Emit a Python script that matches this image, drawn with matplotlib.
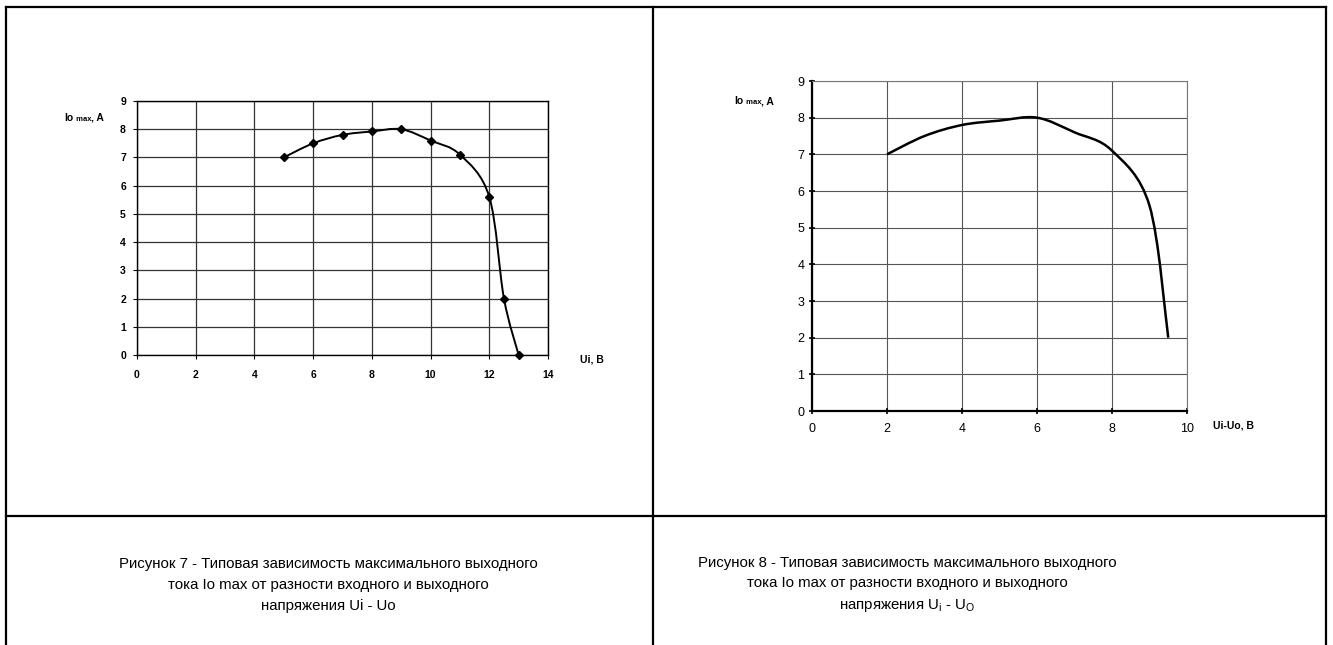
import numpy as np
import matplotlib
matplotlib.use("Agg")
import matplotlib.pyplot as plt
from matplotlib.path import Path
from matplotlib.patches import PathPatch
from matplotlib.lines import Line2D

plt.rcParams['font.family'] = ['Liberation Sans', 'DejaVu Sans']

# данные, рисунок 7
ui_7 = [5, 6, 7, 8, 9, 10, 11, 12, 12.5, 13]
io_7 = [7.0, 7.5, 7.8, 7.92, 8.0, 7.6, 7.1, 5.6, 2.0, 0.0]

# данные, рисунок 8
du_8 = [2, 3, 4, 5, 6, 7, 8, 9, 9.5]
io_8 = [7.0, 7.5, 7.8, 7.92, 8.0, 7.6, 7.1, 5.6, 2.0]

x_ticks_7 = [0, 2, 4, 6, 8, 10, 12, 14]
x_ticks_8 = [0, 2, 4, 6, 8, 10]
y_ticks = list(range(10))

caption_7 = ("Рисунок 7 - Типовая зависимость максимального выходного\n"
             "тока Io max от разности входного и выходного\n"
             "напряжения Ui - Uo")
caption_8 = ("Рисунок 8 - Типовая зависимость максимального выходного\n"
             "тока Io max от разности входного и выходного\n"
             r"напряжения U$_\mathregular{i}$ - U$_\mathregular{O}$")

W, H = 1333, 645
fig = plt.figure(figsize=(W / 100, H / 100), dpi=100)


def px_axes(x0, y0, x1, y1):
    # координаты в пикселях (сверху вниз)
    return fig.add_axes([x0 / W, 1 - y1 / H, (x1 - x0) / W, (y1 - y0) / H])


def smooth_path(xs, ys):
    # сглаженная линия как в Excel (кривые Безье)
    p = np.column_stack([xs, ys]).astype(float)
    verts = [p[0]]
    codes = [Path.MOVETO]
    n = len(p)
    for i in range(n - 1):
        p0 = p[i - 1] if i > 0 else p[i]
        p1, p2 = p[i], p[i + 1]
        p3 = p[i + 2] if i + 2 < n else p[i + 1]
        verts += [p1 + (p2 - p0) / 6, p2 - (p3 - p1) / 6, p2]
        codes += [Path.CURVE4] * 3
    return Path(verts, codes)


def ylabel(ax_x_end, y, size_big, size_small):
    t = fig.text(ax_x_end / W, 1 - y / H, ", A", fontsize=size_big,
                 fontweight='bold', ha='right', va='baseline')
    m = plt.annotate(" max", xy=(0, 0), xycoords=t, fontsize=size_small,
                     fontweight='bold', ha='right', va='bottom')
    plt.annotate("Io", xy=(0, 0), xycoords=m, fontsize=size_big,
                 fontweight='bold', ha='right', va='bottom')


# ---- рисунок 7 ----
ax1 = px_axes(137, 101, 548, 355)
ax1.set_xlim(0, 14)
ax1.set_ylim(0, 9)
ax1.set_xticks(x_ticks_7)
ax1.set_yticks(y_ticks)
ax1.grid(True, color='#333333', lw=0.9)
ax1.set_axisbelow(True)
for s in ax1.spines.values():
    s.set_color('black')
    s.set_linewidth(1.0)
ax1.tick_params(direction='out', length=3, width=0.8, pad=8, labelsize=7.5)
for lab in ax1.get_xticklabels() + ax1.get_yticklabels():
    lab.set_fontweight('bold')
ax1.tick_params(axis='y', pad=5)
ax1.add_patch(PathPatch(smooth_path(ui_7, io_7), fill=False, lw=1.4,
                        ec='black', zorder=3))
ax1.plot(ui_7, io_7, ls='none', marker='D', ms=4, color='black', zorder=4,
         clip_on=False)
fig.text(580 / W, 1 - 360 / H, "Ui, B", fontsize=7.5, fontweight='bold',
         ha='left', va='center')
ylabel(104, 121, 7.5, 5.5)

# ---- рисунок 8 ----
ax2 = px_axes(812, 81, 1187, 411)
ax2.set_xlim(0, 10)
ax2.set_ylim(0, 9)
ax2.set_xticks(x_ticks_8)
ax2.set_yticks(y_ticks)
ax2.grid(True, color='#555555', lw=0.8)
ax2.set_axisbelow(True)
ax2.spines['left'].set_linewidth(1.6)
ax2.spines['bottom'].set_linewidth(1.6)
ax2.spines['top'].set_color('#777777')
ax2.spines['right'].set_color('#777777')
ax2.spines['top'].set_linewidth(0.8)
ax2.spines['right'].set_linewidth(0.8)
ax2.tick_params(direction='inout', length=5, width=1.2, labelsize=9)
ax2.tick_params(axis='x', pad=6)
ax2.tick_params(axis='y', pad=3)
ax2.add_patch(PathPatch(smooth_path(du_8, io_8), fill=False, lw=1.8,
                        ec='black', zorder=3))
fig.text(1213 / W, 1 - 425 / H, "Ui-Uo, B", fontsize=7.5, fontweight='bold',
         ha='left', va='center')
ylabel(774, 104, 7.5, 5.5)

# ---- подписи ----
fig.text(328 / W, 1 - 585 / H, caption_7, fontsize=10.8, ha='center',
         va='center', multialignment='center', linespacing=1.6)
fig.text(907 / W, 1 - 585 / H, caption_8, fontsize=10.8, ha='center',
         va='center', multialignment='center', linespacing=1.6)

# ---- рамка таблицы ----
lw = 1.6
for xy in [([6, 1326], [7, 7]), ([6, 1326], [516, 516]),
           ([6, 6], [7, 645]), ([653, 653], [7, 645]),
           ([1326, 1326], [7, 645])]:
    fig.add_artist(Line2D([v / W for v in xy[0]], [1 - v / H for v in xy[1]],
                          color='black', lw=lw, solid_capstyle='projecting'))

fig.savefig("out.png", dpi=100)
